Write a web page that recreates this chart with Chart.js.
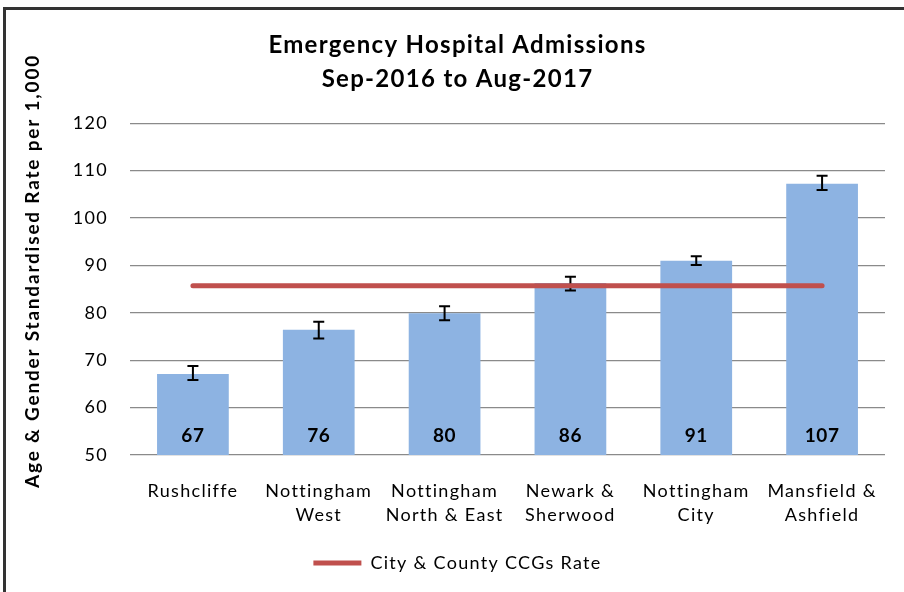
<!DOCTYPE html>
<html>
<head>
<meta charset="utf-8">
<script src="https://cdn.jsdelivr.net/npm/chart.js@4.4.0/dist/chart.umd.min.js"></script>
<style>
  html, body { margin: 0; padding: 0; background: #fff; }
  #wrap { position: relative; width: 904px; height: 592px; overflow: hidden; }
  #frame {
    position: absolute; left: 3px; top: 7px; width: 940px; height: 620px;
    border-top: 3px solid #333; border-left: 3px solid #333;
  }
  canvas { position: absolute; left: 0; top: 0; }
</style>
</head>
<body>
<div id="wrap">
  <div id="frame"></div>
  <canvas id="admissions-chart" width="904" height="592"></canvas>
</div>
<script>
// Emergency admissions by CCG, Sep-2016 to Aug-2017

const categories = [
  ["Rushcliffe"],
  ["Nottingham", "West"],
  ["Nottingham", "North & East"],
  ["Newark &", "Sherwood"],
  ["Nottingham", "City"],
  ["Mansfield &", "Ashfield"]
];
const rates = [67.1, 76.4, 79.9, 86.3, 91.0, 107.2];
const ciLower = [65.8, 74.6, 78.4, 84.7, 90.1, 105.9];
const ciUpper = [68.8, 78.1, 81.4, 87.6, 91.9, 108.9];
const ccgRate = [85.7, 85.7, 85.7, 85.7, 85.7, 85.7];
const yTicks = [50, 60, 70, 80, 90, 100, 110, 120];

const FONT = "Lato, 'Open Sans', sans-serif";
const SPACING = "1.3px";

// the source text is a bit wider than Lato, so spread letters slightly
const spacingPlugin = {
  id: "spacing",
  beforeLayout(chart) { chart.ctx.letterSpacing = SPACING; },
  beforeDraw(chart) { chart.ctx.letterSpacing = SPACING; }
};

// error bars, drawn right after the bars so the red line sits on top
const errorBarsPlugin = {
  id: "errorBars",
  afterDatasetDraw(chart, args) {
    if (args.index !== 0) return;
    const { ctx, scales } = chart;
    const meta = chart.getDatasetMeta(0);
    ctx.save();
    ctx.strokeStyle = "#000";
    ctx.lineWidth = 2;
    meta.data.forEach((bar, i) => {
      const x = bar.x;
      const yTop = scales.y.getPixelForValue(ciUpper[i]);
      const yBot = scales.y.getPixelForValue(ciLower[i]);
      ctx.beginPath();
      ctx.moveTo(x, yTop);
      ctx.lineTo(x, yBot);
      ctx.moveTo(x - 5.5, yTop);
      ctx.lineTo(x + 5.5, yTop);
      ctx.moveTo(x - 5.5, yBot);
      ctx.lineTo(x + 5.5, yBot);
      ctx.stroke();
    });
    ctx.restore();
  }
};

// value labels near the foot of each bar + rotated y title
const labelsPlugin = {
  id: "barLabels",
  afterDraw(chart) {
    const { ctx, scales } = chart;
    const meta = chart.getDatasetMeta(0);
    const base = scales.y.getPixelForValue(scales.y.min);
    ctx.save();
    ctx.fillStyle = "#000";
    ctx.font = "bold 19px " + FONT;
    ctx.letterSpacing = "0.6px";
    ctx.textAlign = "center";
    ctx.textBaseline = "middle";
    meta.data.forEach((bar, i) => {
      ctx.fillText(String(Math.round(rates[i])), bar.x, base - 19);
    });

    ctx.translate(33, 271);
    ctx.rotate(-Math.PI / 2);
    ctx.font = "bold 19px " + FONT;
    ctx.letterSpacing = "1.8px";
    ctx.fillText("Age & Gender Standardised Rate per 1,000", 0, 0);
    ctx.restore();
  }
};

const ctx = document.getElementById("admissions-chart").getContext("2d");

new Chart(ctx, {
  data: {
    labels: categories,
    datasets: [
      {
        type: "bar",
        label: "Rate",
        data: rates,
        backgroundColor: "#8DB3E2",
        borderWidth: 0,
        categoryPercentage: 1,
        barPercentage: 0.57,
        order: 1
      },
      {
        type: "line",
        label: "City & County CCGs Rate",
        data: ccgRate,
        borderColor: "#C0504D",
        backgroundColor: "#C0504D",
        borderWidth: 5,
        borderCapStyle: "round",
        pointRadius: 0,
        pointStyle: "line",
        order: 0
      }
    ]
  },
  options: {
    responsive: false,
    devicePixelRatio: 1,
    animation: false,
    layout: { padding: { left: 30, right: 19, top: 0, bottom: 10 } },
    plugins: {
      title: {
        display: true,
        text: ["Emergency Hospital Admissions", "Sep-2016 to Aug-2017"],
        color: "#000",
        font: { family: FONT, size: 24, weight: "bold", lineHeight: 1.42 },
        padding: { top: 28, bottom: 27 }
      },
      legend: {
        position: "bottom",
        labels: {
          filter: item => item.datasetIndex === 1,
          usePointStyle: true,
          pointStyleWidth: 48,
          color: "#000",
          padding: 10,
          font: { family: FONT, size: 18 }
        }
      },
      tooltip: { enabled: false }
    },
    scales: {
      x: {
        grid: { display: false, drawTicks: false },
        border: { display: false },
        ticks: {
          color: "#000",
          padding: 24,
          maxRotation: 0,
          autoSkip: false,
          font: { family: FONT, size: 18, lineHeight: 1.33 }
        },
        afterFit(scale) { scale.height = 89; }
      },
      y: {
        min: 50,
        max: 120,
        afterBuildTicks(scale) { scale.ticks = yTicks.map(v => ({ value: v })); },
        grid: { color: "#8a8a8a", lineWidth: 1.3, drawTicks: false },
        border: { display: false },
        ticks: {
          color: "#000",
          padding: 22,
          font: { family: FONT, size: 18 }
        },
        afterFit(scale) { scale.width = 100; }
      }
    }
  },
  plugins: [spacingPlugin, errorBarsPlugin, labelsPlugin]
});
</script>
</body>
</html>
